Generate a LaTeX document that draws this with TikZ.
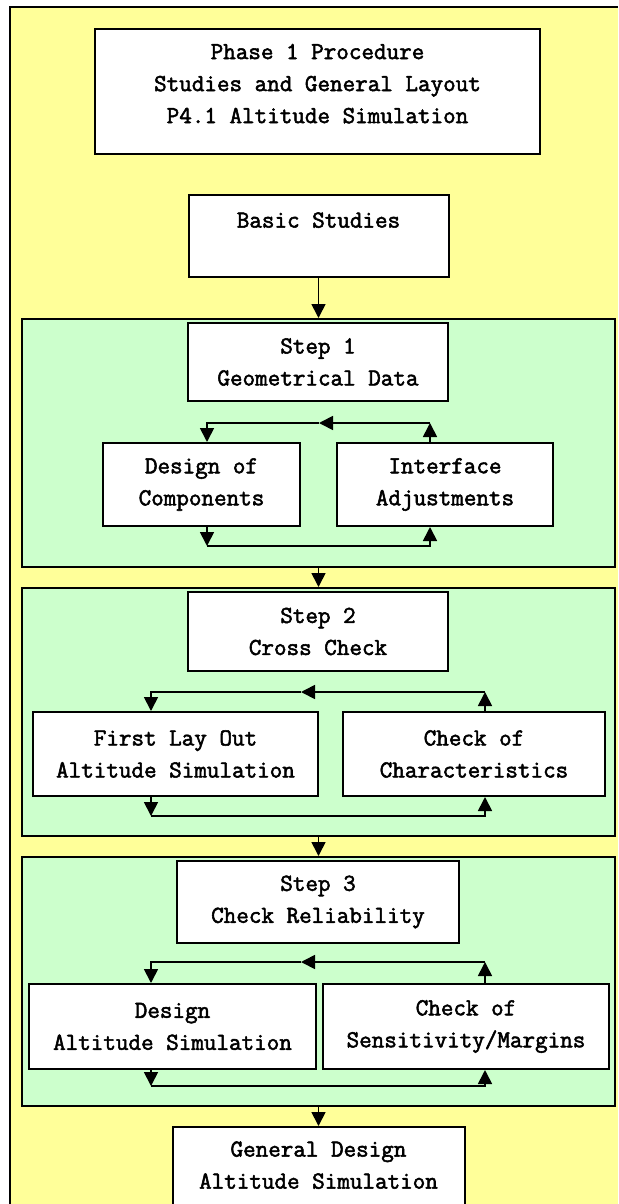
\documentclass[tikz,border=0pt]{standalone}
\usepackage{fontspec}
\newfontfamily\flowfont{Latin Modern Mono}[AutoFakeBold=2.2]
\usetikzlibrary{arrows.meta}
\definecolor{phaseyellow}{HTML}{FFFF99}
\definecolor{stepgreen}{HTML}{CCFFCC}
\tikzset{
  box/.style={draw=black, fill=white, line width=1pt, align=center, inner sep=0pt,
    font=\flowfont\bfseries\fontsize{12.2}{16}\selectfont},
  stepframe/.style={draw=black, fill=stepgreen, line width=1pt, inner sep=0pt},
  flow/.style={-{Triangle[length=7pt,width=7pt]}, line width=0.85pt}
}
\begin{document}
\begin{tikzpicture}[x=0.5pt,y=-0.5pt]
\useasboundingbox (0,0) rectangle (618,1204);
\fill[phaseyellow] (10,7) rectangle (618,1204);
\draw[line width=1pt] (10,1204) -- (10,7) -- (618,7);
\node[box, minimum width=222.5pt, minimum height=62.5pt] (phase) at (317.5,91.5)
  {Phase 1 Procedure\\Studies and General Layout\\P4.1 Altitude Simulation\\[-8pt]\mbox{}};
\node[box, minimum width=130pt, minimum height=41pt] (basic) at (318.5,236) {Basic Studies\\\mbox{}};
\node[stepframe, minimum width=296.5pt, minimum height=124pt] (g1) at (318.5,443) {};
\node[stepframe, minimum width=296.5pt, minimum height=124pt] (g2) at (318.5,712) {};
\node[stepframe, minimum width=296.5pt, minimum height=124.5pt] (g3) at (318.5,981.5) {};
\node[box, minimum width=130pt, minimum height=39pt] (s1) at (318,362) {Step 1\\Geometrical Data};
\node[box, minimum width=98.5pt, minimum height=41.5pt] (s1a) at (201.5,484.5) {Design of\\Components};
\node[box, minimum width=108pt, minimum height=41.5pt] (s1b) at (445,484.5) {Interface\\Adjustments};
\node[box, minimum width=130pt, minimum height=39.5pt] (s2) at (318,631.5) {Step 2\\Cross Check};
\node[box, minimum width=142.5pt, minimum height=42pt] (s2a) at (175.5,754) {First Lay Out\\Altitude Simulation};
\node[box, minimum width=131pt, minimum height=42pt] (s2b) at (474,754) {Check of\\Characteristics};
\node[box, minimum width=141pt, minimum height=41pt] (s3) at (318,902) {Step 3\\Check Reliability};
\node[box, minimum width=143.5pt, minimum height=42.5pt] (s3a) at (172.5,1026.5) {Design\\Altitude Simulation};
\node[box, minimum width=143pt, minimum height=42.5pt] (s3b) at (466,1026.5) {Check of\\Sensitivity/Margins};
\begin{scope}
\clip (0,0) rectangle (618,1204);
\node[box, minimum width=146pt, minimum height=44pt] (gen) at (318.5,1171) {General Design\\Altitude Simulation\\[-10pt]\mbox{}};
\end{scope}
\draw[flow] (basic.south) -- (g1.north);
\draw[flow] (g1.south) -- (g2.north);
\draw[flow] (g2.south) -- (g3.north);
\draw[flow] (g3.south) -- (gen.north);
\coordinate (tl1) at (207,423); \coordinate (tm1) at (319,423); \coordinate (tr1) at (430,423);
\coordinate (bl1) at (207,546); \coordinate (br1) at (430,546);
\coordinate (tl2) at (151,692); \coordinate (tm2) at (301,692); \coordinate (tr2) at (485,692);
\coordinate (bl2) at (151,816); \coordinate (br2) at (485,816);
\coordinate (tl3) at (151,962); \coordinate (tm3) at (301,962); \coordinate (tr3) at (485,962);
\coordinate (bl3) at (151,1086); \coordinate (br3) at (485,1086);
\draw[flow] (s1b.north -| tr1) -- (tr1);
\draw[flow] (tr1) -- (tm1);
\draw[flow] (tm1) -- (tl1) -- (s1a.north -| tl1);
\draw[flow] (s1a.south -| bl1) -- (bl1);
\draw[flow] (bl1) -- (br1) -- (s1b.south -| br1);
\draw[flow] (s2b.north -| tr2) -- (tr2);
\draw[flow] (tr2) -- (tm2);
\draw[flow] (tm2) -- (tl2) -- (s2a.north -| tl2);
\draw[flow] (s2a.south -| bl2) -- (bl2);
\draw[flow] (bl2) -- (br2) -- (s2b.south -| br2);
\draw[flow] (s3b.north -| tr3) -- (tr3);
\draw[flow] (tr3) -- (tm3);
\draw[flow] (tm3) -- (tl3) -- (s3a.north -| tl3);
\draw[flow] (s3a.south -| bl3) -- (bl3);
\draw[flow] (bl3) -- (br3) -- (s3b.south -| br3);
\end{tikzpicture}
\end{document}
